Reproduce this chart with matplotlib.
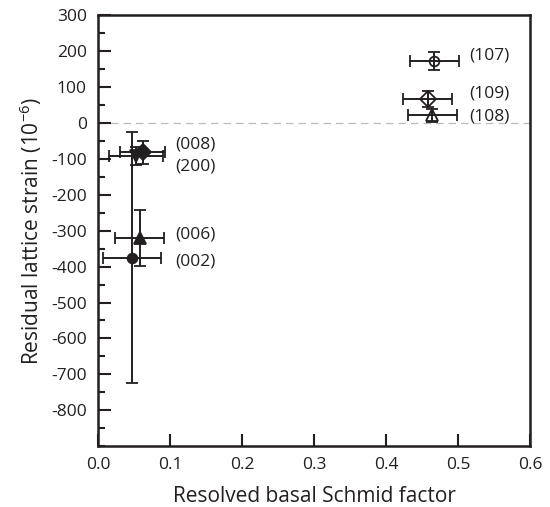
import matplotlib.pyplot as plt
from matplotlib.ticker import MultipleLocator

plt.rcParams['font.family'] = ['Open Sans', 'DejaVu Sans']
plt.rcParams['axes.unicode_minus'] = False
plt.rcParams['mathtext.fontset'] = 'custom'
plt.rcParams['mathtext.rm'] = 'Open Sans'

# reflections: schmid factor, residual strain, errors
labels = ['(002)', '(006)', '(200)', '(008)', '(107)', '(109)', '(108)']
schmid = [0.047, 0.058, 0.053, 0.062, 0.467, 0.458, 0.464]
strain = [-375, -320, -92, -82, 172, 67, 22]
xerr = [0.040, 0.034, 0.037, 0.031, 0.034, 0.034, 0.034]
yerr = [350, 77, 25, 32, 25, 23, 18]
markers = ['o', '^', 'v', 'D', 'o', 'D', '^']
filled = [True, True, True, True, False, False, False]
label_y = [-386, -311, -122, -61, 189, 83, 19]

col = '#231f20'

fig = plt.figure(figsize=(5.5, 5.07), dpi=100)
ax = fig.add_axes([0.178, 0.120, 0.786, 0.850])

ax.axhline(0, color='#bbbbbb', lw=0.9, ls=(0, (6, 4)), zorder=0)

for i in range(len(labels)):
    ms = 8 if markers[i] != 'o' else 7
    ax.errorbar(schmid[i], strain[i], xerr=xerr[i], yerr=yerr[i],
                fmt=markers[i], color=col, ms=ms, mew=1.3,
                mfc=col if filled[i] else 'none', mec=col,
                ecolor=col, elinewidth=1.4, capsize=4, capthick=1.4)
    tx = 0.107 if schmid[i] < 0.3 else 0.515
    ax.text(tx, label_y[i], labels[i], fontsize=12.5, color=col, va='center')

ax.set_xlim(0, 0.6)
ax.set_ylim(-900, 300)
ax.xaxis.set_major_locator(MultipleLocator(0.1))
ax.yaxis.set_minor_locator(MultipleLocator(50))
ax.set_yticks(range(-800, 301, 100))
ax.set_xticklabels(['%.1f' % v for v in ax.get_xticks()])

ax.tick_params(axis='both', which='major', direction='in', length=9, width=1.5,
               labelsize=12.5, colors=col, top=False, right=False)
ax.tick_params(axis='y', which='minor', direction='in', length=5, width=1.5,
               colors=col, right=False)
ax.tick_params(axis='x', pad=8)
ax.tick_params(axis='y', pad=8)
for s in ax.spines.values():
    s.set_linewidth(1.8)
    s.set_color(col)

ax.set_xlabel('Resolved basal Schmid factor', fontsize=15, color=col, labelpad=9)
ax.set_ylabel(r'Residual lattice strain (10$^{-6}$)', fontsize=15, color=col, labelpad=5)

fig.savefig('out.png', dpi=100)
